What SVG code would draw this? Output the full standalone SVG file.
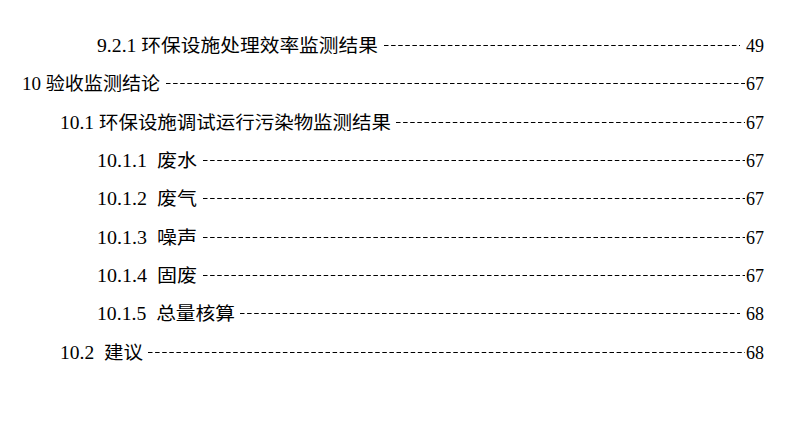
<svg xmlns="http://www.w3.org/2000/svg" width="800" height="425" viewBox="0 0 800 425">
<style>
text{font-family:"Liberation Serif","Noto Sans CJK SC",serif;font-size:18px;fill:#000;white-space:pre}
.d{stroke:#000;stroke-width:1.2;stroke-dasharray:4.5 2.6}
.r{text-anchor:end}
</style>
<rect width="800" height="425" fill="#fff"/>
<text x="97" y="52" textLength="281" lengthAdjust="spacingAndGlyphs">9.2.1 环保设施处理效率监测结果</text>
<line class="d" x1="384" y1="45.5" x2="740" y2="45.5"/>
<text class="r" x="764" y="52">49</text>
<text x="22" y="90" textLength="138" lengthAdjust="spacingAndGlyphs">10 验收监测结论</text>
<line class="d" x1="166" y1="83.5" x2="745" y2="83.5"/>
<text class="r" x="764" y="90">67</text>
<text x="60" y="129" textLength="331" lengthAdjust="spacingAndGlyphs">10.1 环保设施调试运行污染物监测结果</text>
<line class="d" x1="396" y1="122.5" x2="745" y2="122.5"/>
<text class="r" x="764" y="129">67</text>
<text x="97" y="167" xml:space="preserve" textLength="100" lengthAdjust="spacingAndGlyphs">10.1.1  废水</text>
<line class="d" x1="203" y1="160.5" x2="745" y2="160.5"/>
<text class="r" x="764" y="167">67</text>
<text x="97" y="205" xml:space="preserve" textLength="100" lengthAdjust="spacingAndGlyphs">10.1.2  废气</text>
<line class="d" x1="203" y1="198.5" x2="745" y2="198.5"/>
<text class="r" x="764" y="205">67</text>
<text x="97" y="244" xml:space="preserve" textLength="100" lengthAdjust="spacingAndGlyphs">10.1.3  噪声</text>
<line class="d" x1="203" y1="237.5" x2="745" y2="237.5"/>
<text class="r" x="764" y="244">67</text>
<text x="97" y="282" xml:space="preserve" textLength="100" lengthAdjust="spacingAndGlyphs">10.1.4  固废</text>
<line class="d" x1="203" y1="275.5" x2="745" y2="275.5"/>
<text class="r" x="764" y="282">67</text>
<text x="97" y="320" xml:space="preserve" textLength="138" lengthAdjust="spacingAndGlyphs">10.1.5  总量核算</text>
<line class="d" x1="240" y1="313.5" x2="740" y2="313.5"/>
<text class="r" x="764" y="320">68</text>
<text x="60" y="359" xml:space="preserve" textLength="83" lengthAdjust="spacingAndGlyphs">10.2  建议</text>
<line class="d" x1="148" y1="352.5" x2="745" y2="352.5"/>
<text class="r" x="764" y="359">68</text>
</svg>
